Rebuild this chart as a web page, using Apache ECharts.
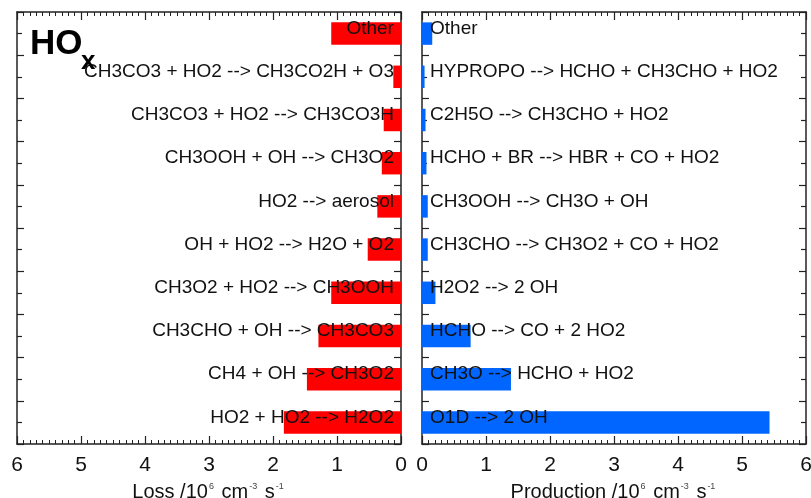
<!DOCTYPE html>
<html>
<head>
<meta charset="utf-8">
<script src="https://cdn.jsdelivr.net/npm/echarts@6/dist/echarts.min.js"></script>
<style>
  html, body { margin: 0; padding: 0; background: #fff; overflow: hidden; }
  #chart { width: 811px; height: 498px; }
</style>
</head>
<body>
<div id="chart"></div>
<script>
// HOx budget: loss reactions (left panel) and production reactions (right panel), 10^6 cm^-3 s^-1
const lossLabels = [
  'Other',
  'CH3CO3 + HO2 --> CH3CO2H + O3',
  'CH3CO3 + HO2 --> CH3CO3H',
  'CH3OOH + OH --> CH3O2',
  'HO2 --> aerosol',
  'OH + HO2 --> H2O + O2',
  'CH3O2 + HO2 --> CH3OOH',
  'CH3CHO + OH --> CH3CO3',
  'CH4 + OH --> CH3O2',
  'HO2 + HO2 --> H2O2'
];
const lossValues = [1.09, 0.12, 0.27, 0.30, 0.37, 0.52, 1.09, 1.29, 1.47, 1.83];

const prodLabels = [
  'Other',
  'HYPROPO --> HCHO + CH3CHO + HO2',
  'C2H5O --> CH3CHO + HO2',
  'HCHO + BR --> HBR + CO + HO2',
  'CH3OOH --> CH3O + OH',
  'CH3CHO --> CH3O2 + CO + HO2',
  'H2O2 --> 2 OH',
  'HCHO --> CO + 2 HO2',
  'CH3O --> HCHO + HO2',
  'O1D --> 2 OH'
];
const prodValues = [0.16, 0.04, 0.055, 0.07, 0.09, 0.09, 0.21, 0.76, 1.39, 5.43];

const xTicks = ['0', '1', '2', '3', '4', '5', '6'];

const FONT = '"Liberation Sans", Arial, sans-serif';
const INK = '#111';
const LINE = { lineStyle: { color: '#222', width: 1.5 } };

function xAxisPair(grid, inverse, nameRich) {
  const base = {
    type: 'value', gridIndex: grid, min: 0, max: 6, interval: 1, inverse: inverse,
    axisLine: Object.assign({ show: true, onZero: false }, LINE),
    axisTick: { show: true, inside: true, length: 8, lineStyle: { color: '#222', width: 1.2 } },
    minorTick: { show: true, splitNumber: 10, length: 4, lineStyle: { color: '#222', width: 1 } },
    splitLine: { show: false }, minorSplitLine: { show: false }
  };
  return [
    Object.assign({}, base, {
      position: 'bottom',
      axisLabel: {
        show: true, margin: 11, fontSize: 21, color: INK, fontFamily: FONT,
        showMinLabel: true, showMaxLabel: true,
        formatter: v => xTicks[Math.round(v)]
      },
      name: nameRich, nameLocation: 'middle', nameGap: 31,
      nameTextStyle: {
        color: INK, fontFamily: FONT,
        rich: {
          a: { fontSize: 20, lineHeight: 22, fontFamily: FONT, color: INK, verticalAlign: 'bottom' },
          s: { fontSize: 9, lineHeight: 22, fontFamily: FONT, color: '#444', verticalAlign: 'top', padding: [1, 2, 0, 1] }
        }
      }
    }),
    Object.assign({}, base, { position: 'top', axisLabel: { show: false } })
  ];
}

function yAxesFor(grid, labels) {
  const frame = {
    type: 'value', gridIndex: grid, min: 0, max: 10, interval: 1,
    axisLine: Object.assign({ show: true, onZero: false }, LINE),
    axisTick: { show: true, inside: true, length: 7, lineStyle: { color: '#222', width: 1.2 } },
    minorTick: { show: true, splitNumber: 2, length: 5, lineStyle: { color: '#222', width: 1.2 } },
    axisLabel: { show: false }, splitLine: { show: false }, minorSplitLine: { show: false }
  };
  return [
    {
      type: 'category', gridIndex: grid, data: labels, inverse: true,
      axisLine: { show: false }, axisTick: { show: false }, axisLabel: { show: false }
    },
    Object.assign({}, frame, { position: 'left' }),
    Object.assign({}, frame, { position: 'right' })
  ];
}

// reaction names, anchored at the zero line of each panel
const labelStyle = { color: '#111', fontSize: 19, fontFamily: FONT, opacity: 1 };

const option = {
  animation: false,
  backgroundColor: '#fff',
  grid: [
    { left: 17, right: 410, top: 12, bottom: 54, containLabel: false, outerBoundsMode: 'none' },
    { left: 422, right: 5, top: 12, bottom: 54, containLabel: false, outerBoundsMode: 'none' }
  ],
  xAxis: [].concat(
    xAxisPair(0, true, '{a|Loss /10}{s|6}{a| cm}{s|-3}{a| s}{s|-1}'),
    xAxisPair(1, false, '{a|Production /10}{s|6}{a| cm}{s|-3}{a| s}{s|-1}')
  ),
  yAxis: [].concat(yAxesFor(0, lossLabels), yAxesFor(1, prodLabels)),
  series: [
    {
      type: 'bar', xAxisIndex: 0, yAxisIndex: 0, data: lossValues,
      barWidth: '52%', itemStyle: { color: '#ff0000' }, z: 2
    },
    {
      type: 'bar', xAxisIndex: 2, yAxisIndex: 3, data: prodValues,
      barWidth: '52%', itemStyle: { color: '#0066ff' }, z: 2
    },
    {
      type: 'scatter', xAxisIndex: 0, yAxisIndex: 0, symbolSize: 0.1,
      itemStyle: { color: '#111', opacity: 1 }, z: 5,
      data: lossLabels.map(l => [0, l]),
      label: Object.assign({ show: true, position: 'left', distance: 7, offset: [0, -5], formatter: p => p.value[1] }, labelStyle)
    },
    {
      type: 'scatter', xAxisIndex: 2, yAxisIndex: 3, symbolSize: 0.1,
      itemStyle: { color: '#111', opacity: 1 }, z: 5,
      data: prodLabels.map(l => [0, l]),
      label: Object.assign({ show: true, position: 'right', distance: 8, offset: [0, -5], formatter: p => p.value[1] }, labelStyle)
    }
  ],
  graphic: [
    {
      type: 'text', left: 30, top: 27, z: 10,
      style: { text: 'HO', font: 'bold 35px ' + FONT, fill: '#000' }
    },
    {
      type: 'text', left: 81, top: 49, z: 10,
      style: { text: 'x', font: 'bold 26px ' + FONT, fill: '#000' }
    }
  ]
};

const chart = echarts.init(document.getElementById('chart'), null, { renderer: 'canvas' });
chart.setOption(option);
</script>
</body>
</html>
